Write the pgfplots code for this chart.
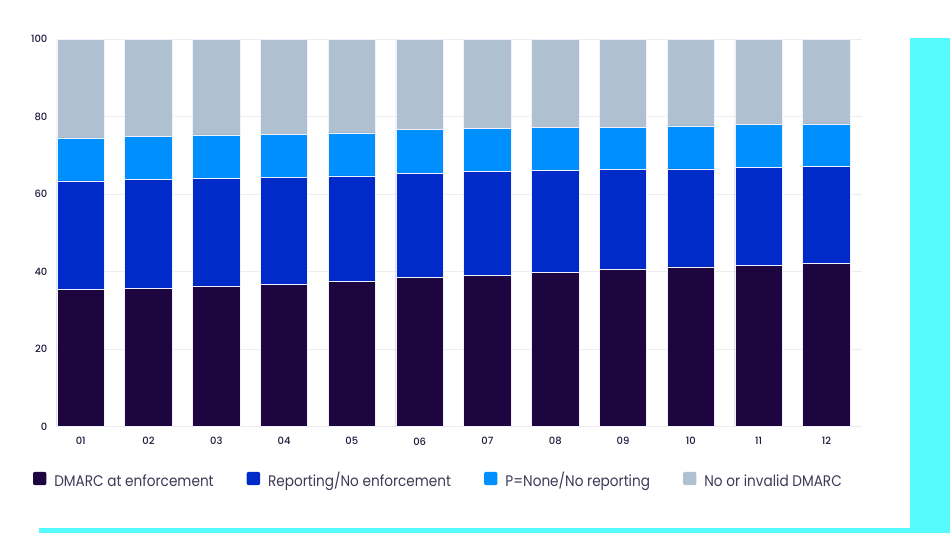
\documentclass[border=0pt]{standalone}
\usepackage{fontspec}
\setmainfont{Poppins}
\newfontfamily\legfont{Poppins}[FakeStretch=0.89]
\newfontfamily\tickfont{Poppins Medium}
\usepackage{pgfplots}
\pgfplotsset{compat=1.18}
\definecolor{enf}{HTML}{1D0640}
\definecolor{rep}{HTML}{002BC8}
\definecolor{pnone}{HTML}{008FFF}
\definecolor{nodm}{HTML}{AFC0D0}
\definecolor{cyanbg}{HTML}{55FBFC}
\definecolor{tickc}{HTML}{1E1B3C}
\definecolor{legc}{HTML}{3B3B58}

% shares per month
\pgfplotstableread{
m   enf   rep   pnone nodm
1   35.3  28.1  11.1  25.5
2   35.6  28.3  11.0  25.1
3   36.3  27.8  11.2  24.7
4   36.7  27.7  11.1  24.5
5   37.5  27.2  11.1  24.2
6   38.4  26.9  11.4  23.3
7   39.1  26.7  11.1  23.1
8   39.9  26.2  11.1  22.8
9   40.6  25.7  11.0  22.7
10  41.2  25.3  11.1  22.4
11  41.5  25.4  11.0  22.1
12  42.1  25.0  11.0  21.9
}\dmarc

\begin{document}
\begin{tikzpicture}
\fill[white] (0,0) rectangle (712.5pt,399.75pt);
\path[use as bounding box] (0,0) rectangle (712.5pt,399.75pt);
\fill[cyanbg] (682.5pt,0) rectangle (712.5pt,371.25pt);
\fill[cyanbg] (29.25pt,0) rectangle (682.5pt,3.75pt);
\begin{axis}[
    at={(42.75pt,79.8pt)}, anchor=south west,
    scale only axis,
    width=604pt, height=290.6pt,
    ybar stacked,
    bar width=0.7,
    xmin=0.65, xmax=12.53,
    ymin=0, ymax=100,
    xtick={1,...,12},
    xticklabels={01,02,03,04,05,06,07,08,09,10,11,12},
    ytick={0,20,40,60,80,100},
    ymajorgrids=true,
    major grid style={color=black!7, line width=0.6pt},
    axis line style={draw=none},
    tick style={draw=none},
    /pgf/number format/assume math mode=true,
    tick label style={font=\tickfont\fontsize{7.5}{9}\selectfont, text=tickc, inner sep=0pt},
    yticklabel style={anchor=east, xshift=-7pt},
    xticklabel style={anchor=north, yshift=-8pt},
    every axis plot/.append style={draw=blue!6!white, line width=0.5pt},
    legend columns=4,
    legend style={
        at={(-0.0298,-0.140)}, anchor=west,
        draw=none, fill=none, inner sep=0pt, outer sep=0pt,
        font=\legfont\fontsize{11.5}{13}\selectfont, text=legc,
        nodes={inner sep=0pt, text height=8.5pt, text depth=2.5pt},
        /tikz/every odd column/.append style={column sep=6pt},
        /tikz/every even column/.append style={column sep=24.75pt},
    },
    legend image code/.code={
        \fill[#1, draw=none, rounded corners=1.5pt] (0pt,-2pt) rectangle (10pt,8pt);
    },
]
\addplot[fill=enf] table[x=m, y=enf] {\dmarc};
\addlegendentry{DMARC at enforcement}
\addplot[fill=rep] table[x=m, y=rep] {\dmarc};
\addlegendentry{Reporting/No enforcement}
\addplot[fill=pnone] table[x=m, y=pnone] {\dmarc};
\addlegendentry{P=None/No reporting}
\addplot[fill=nodm] table[x=m, y=nodm] {\dmarc};
\addlegendentry{No or invalid DMARC}
\end{axis}
\end{tikzpicture}
\end{document}
